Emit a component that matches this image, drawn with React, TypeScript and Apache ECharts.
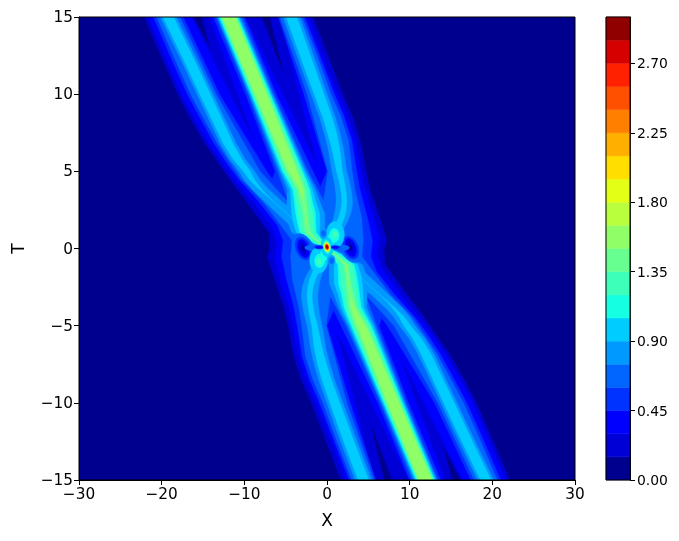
import React, { useEffect, useRef } from "react";
import * as echarts from "echarts";

const xTicks = [-30, -20, -10, 0, 10, 20, 30];
const tTicks = [-15, -10, -5, 0, 5, 10, 15];
const barTicks = [0, 0.45, 0.9, 1.35, 1.8, 2.25, 2.7];
const barLevels = [0, 0.15, 0.3, 0.45, 0.6, 0.75, 0.9, 1.05, 1.2, 1.35, 1.5, 1.65, 1.8, 1.95, 2.1, 2.25, 2.4, 2.55, 2.7, 2.85, 3.0];
const bandColors = ["#00008F", "#0000D6", "#0000FF", "#0033FF", "#0066FF", "#0099FF", "#00CCFF", "#15FFE2", "#3EFFB9", "#67FF90", "#90FF67", "#B9FF3E", "#E2FF15", "#FFDE00", "#FFAF00", "#FF8000", "#FF5000", "#FF2100", "#D60000", "#910000"];

type Pt = [number, number];
// Contours of the field: [X, T]
const contour015: Pt[] = [[-22.1, 15], [-16.2, 15], [-14.1, 12.9], [-15.1, 15], [-7.9, 15], [-5.1, 11.05], [-6.9, 15], [-1.7, 15], [0.1, 12.5], [1.9, 10], [3.1, 8.5], [4, 7], [4.7, 5], [5.2, 3.8], [6.3, 2.05], [7.2, 0.55], [6.9, 0], [7, -1], [9.67, -3], [11.7, -4.44], [13.2, -5.6], [14.8, -6.84], [16.6, -8.5], [18.05, -10], [20.1, -12.5], [22.1, -15], [16.2, -15], [14.1, -12.9], [15.1, -15], [7.9, -15], [5.1, -11.05], [6.9, -15], [1.7, -15], [-0.1, -12.5], [-1.9, -10], [-3.1, -8.5], [-4, -7], [-4.7, -5], [-5.2, -3.8], [-6.3, -2.05], [-7.2, -0.55], [-6.9, 0], [-7, 1], [-9.67, 3], [-11.7, 4.44], [-13.2, 5.6], [-14.8, 6.84], [-16.6, 8.5], [-18.05, 10], [-20.1, 12.5]];
const contour030: Pt[] = [[-21.6, 15], [-16.4, 15], [-8.5, 6.6], [-14.2, 15], [-9.9, 15], [-1.1, 5.3], [-5.7, 15], [-2.3, 15], [-0.6, 12.5], [1.3, 10], [2.5, 8.5], [3.4, 7], [4.1, 5], [4.6, 3.8], [5.6, 2.1], [6.3, 0.6], [6, -0.2], [6.6, -1.3], [8.9, -3], [11.1, -4.44], [12.7, -5.6], [14.3, -6.84], [16.1, -8.5], [17.6, -10], [19.6, -12.5], [21.6, -15], [16.4, -15], [8.5, -6.6], [14.2, -15], [9.9, -15], [1.1, -5.3], [5.7, -15], [2.3, -15], [0.6, -12.5], [-1.3, -10], [-2.5, -8.5], [-3.4, -7], [-4.1, -5], [-4.6, -3.8], [-5.6, -2.1], [-6.3, -0.6], [-6, 0.2], [-6.6, 1.3], [-8.9, 3], [-11.1, 4.44], [-12.7, 5.6], [-14.3, 6.84], [-16.1, 8.5], [-17.6, 10], [-19.6, 12.5]];
const contour045: Pt[] = [[-21, 15], [-17.4, 15], [-13, 10], [-7.3, 5], [-6.6, 4.5], [-6.3, 5], [-9.85, 10], [-13.75, 15], [-10, 15], [-6.15, 10], [-1.7, 5], [-0.8, 4], [0, 5], [-2.8, 10], [-5.9, 15], [-2.7, 15], [-0.9, 12.5], [0.9, 10], [2.1, 8.5], [3, 7], [3.6, 5], [4, 3.8], [4.9, 2], [5.5, 0.5], [5.3, -0.5], [6, -1.5], [8.2, -3], [10.6, -4.44], [12.2, -5.6], [13.7, -6.84], [15.4, -8.5], [16.9, -10], [19, -12.5], [21, -15], [17.4, -15], [13, -10], [7.3, -5], [6.6, -4.5], [6.3, -5], [9.85, -10], [13.75, -15], [10, -15], [6.15, -10], [1.7, -5], [0.8, -4], [0, -5], [2.8, -10], [5.9, -15], [2.7, -15], [0.9, -12.5], [-0.9, -10], [-2.1, -8.5], [-3, -7], [-3.6, -5], [-4, -3.8], [-4.9, -2], [-5.5, -0.5], [-5.3, 0.5], [-6, 1.5], [-8.2, 3], [-10.6, 4.44], [-12.2, 5.6], [-13.7, 6.84], [-15.4, 8.5], [-16.9, 10], [-19, 12.5]];
const contour060: Pt[] = [[-20.6, 15], [-17.8, 15], [-13.4, 10], [-8.1, 5], [-4.6, 2.95], [-6, 5], [-9.55, 10], [-13.4, 15], [-10.3, 15], [-6.45, 10], [-2.3, 5], [-0.4, 3.1], [0.1, 5], [-2.4, 10], [-5.7, 15], [-3, 15], [-1.2, 12.5], [0.5, 10], [1.7, 8.5], [2.6, 7], [3.05, 5], [3.4, 3.8], [4.2, 2], [4.4, 0.5], [4.2, -0.5], [5.6, -1.5], [7.7, -3], [10.3, -4.44], [11.8, -5.6], [13.3, -6.84], [15, -8.5], [16.5, -10], [18.6, -12.5], [20.6, -15], [17.8, -15], [13.4, -10], [8.1, -5], [4.6, -2.95], [6, -5], [9.55, -10], [13.4, -15], [10.3, -15], [6.45, -10], [2.3, -5], [0.4, -3.1], [-0.1, -5], [2.4, -10], [5.7, -15], [3, -15], [1.2, -12.5], [-0.5, -10], [-1.7, -8.5], [-2.6, -7], [-3.05, -5], [-3.4, -3.8], [-4.2, -2], [-4.4, -0.5], [-4.2, 0.5], [-5.6, 1.5], [-7.7, 3], [-10.3, 4.44], [-11.8, 5.6], [-13.3, 6.84], [-15, 8.5], [-16.5, 10], [-18.6, 12.5]];

// Ridges: [T, centre X, half widths of the bands from 0.75 upward]
type Row = [number, number, number[]];
const upperLeftRidge: Row[] = [[15, -19.2, [0.97, 0.65]], [12, -16.5, [0.97, 0.65]], [10, -14.75, [0.97, 0.65]], [8, -13, [0.97, 0.62]], [6.8, -11.95, [0.97, 0.6]], [5.8, -10.85, [0.95, 0.52]], [5, -9.7, [0.95, 0.42]], [4.4, -9, [0.97, 0.3]], [3.8, -8, [1, 0.15]], [3, -6.4, [1.05, 0]], [2.3, -4.9, [1.2, 0]], [1.6, -3.6, [1.1, 0]]];
const upperRightRidge: Row[] = [[15, -4.3, [1, 0.65]], [12, -2.3, [1, 0.63]], [10, -0.95, [0.97, 0.6]], [8.5, 0.05, [0.96, 0.57]], [7.5, 0.6, [0.95, 0.55]], [6.5, 1.05, [0.93, 0.48]], [5.5, 1.35, [0.9, 0.4]], [5, 1.5, [0.9, 0.35]], [4.2, 1.85, [0.93, 0.3]], [3.5, 2.05, [0.97, 0.3]], [3, 2.1, [1, 0.3]], [2.5, 2, [1, 0.32]], [2, 1.75, [0.95, 0.35]], [1.6, 1.45, [0.9, 0.38]], [1.2, 1.1, [0.8, 0.4]]];
const upperMiddleRidge: Row[] = [[15, -11.9, [1.37, 1.22, 1.1, 1, 0.88, 0.78]], [10, -8, [1.4, 1.25, 1.12, 1, 0.85, 0.7]], [5, -4.15, [1.6, 1.41, 1.2, 1.07, 0.75, 0.5]], [4.4, -3.6, [1.65, 1.38, 1.12, 0.95, 0.62, 0.35]], [3.8, -3.1, [1.7, 1.35, 1.05, 0.85, 0.5, 0.2]], [3, -2.85, [2, 1.5, 1.1, 0.85, 0.4, 0]], [2.3, -2.6, [2.3, 1.7, 1.2, 0.9, 0.3, 0]], [1.6, -2.45, [2.2, 1.6, 1.1, 0.85, 0.3, 0]], [1.05, -2.3, [2, 1.4, 1, 0.8, 0.35, 0]], [0.7, -1.6, [1.5, 1.1, 0.8, 0.6, 0.15, 0]], [0.4, -1, [1.1, 0.9, 0.7, 0.45, 0, 0]], [0.1, -0.2, [0.7, 0.6, 0.5, 0.4, 0.3, 0]]];
const lowerLeftRidge: Row[] = [[-15, 4.4, [1, 0.65]], [-12, 2.3, [1, 0.63]], [-10, 0.95, [0.97, 0.6]], [-8.5, -0.05, [0.96, 0.57]], [-7.5, -0.6, [0.95, 0.55]], [-6.5, -1.05, [0.93, 0.48]], [-5.5, -1.35, [0.9, 0.4]], [-5, -1.5, [0.9, 0.35]], [-4.2, -1.85, [0.93, 0.3]], [-3.5, -2.05, [0.97, 0.3]], [-3, -2.1, [1, 0.3]], [-2.5, -2, [1, 0.32]], [-2, -1.75, [0.95, 0.35]], [-1.6, -1.45, [0.9, 0.38]], [-1.2, -1.1, [0.8, 0.4]]];
const lowerRightRidge: Row[] = [[-15, 19.2, [0.97, 0.65]], [-12, 16.5, [0.97, 0.65]], [-10, 14.75, [0.97, 0.65]], [-8, 13, [0.97, 0.62]], [-6.8, 11.95, [0.97, 0.6]], [-5.8, 10.85, [0.95, 0.52]], [-5, 9.7, [0.95, 0.42]], [-4.4, 9, [0.97, 0.3]], [-3.8, 8, [1, 0.15]], [-3, 6.4, [1.05, 0]], [-2.3, 4.9, [1.2, 0]], [-1.6, 3.6, [1.1, 0]]];
const lowerMiddleRidge: Row[] = [[-15, 11.9, [1.37, 1.22, 1.1, 1, 0.88, 0.78]], [-10, 8, [1.4, 1.25, 1.12, 1, 0.85, 0.7]], [-5, 4.15, [1.6, 1.41, 1.2, 1.07, 0.75, 0.5]], [-4.4, 3.6, [1.65, 1.38, 1.12, 0.95, 0.62, 0.35]], [-3.8, 3.1, [1.7, 1.35, 1.05, 0.85, 0.5, 0.2]], [-3, 2.85, [2, 1.5, 1.1, 0.85, 0.4, 0]], [-2.3, 2.6, [2.3, 1.7, 1.2, 0.9, 0.3, 0]], [-1.6, 2.45, [2.2, 1.6, 1.1, 0.85, 0.3, 0]], [-1.05, 2.3, [2, 1.4, 1, 0.8, 0.35, 0]], [-0.7, 1.6, [1.5, 1.1, 0.8, 0.6, 0.15, 0]], [-0.4, 1, [1.1, 0.9, 0.7, 0.45, 0, 0]], [-0.1, 0.2, [0.7, 0.6, 0.5, 0.4, 0.3, 0]]];

// Patches near the collision, in drawing order: [band, X, T, radius X, radius T, lean]
type Blob = [number, number, number, number, number, number];
const centrePatches: Blob[] = [
  [4, -2.86, 0, 1.4, 0.9, 0.25], [3, -2.86, 0, 1, 0.7, 0.25], [2, -2.86, 0, 0.7, 0.55, 0.3], [1, -2.86, 0, 0.42, 0.38, 0.35], [0, -2.86, 0, 0.12, 0.15, 0.5],
  [4, 2.86, 0.05, 1.4, 0.9, 0.25], [3, 2.86, 0.05, 1, 0.7, 0.25], [2, 2.86, 0.05, 0.7, 0.55, 0.3], [1, 2.86, 0.05, 0.42, 0.38, 0.35], [0, 2.86, 0.05, 0.12, 0.15, 0.5],
  [4, -1.6, 0.05, 1.1, 0.2, 0], [4, 1.6, 0.05, 1.1, 0.2, 0],
  [6, 1, 0.9, 1.1, 0.85, 0], [7, 0.9, 0.85, 0.6, 0.45, 0], [7, 0.4, 0.5, 0.4, 0.4, 0], [8, 0.95, 0.9, 0.3, 0.22, 0],
  [6, -1, -0.75, 1.1, 0.85, 0], [7, -0.9, -0.8, 0.6, 0.45, 0], [7, -0.4, -0.45, 0.4, 0.4, 0], [8, -0.95, -0.85, 0.3, 0.22, 0],
  [6, 0, 0.1, 0.75, 0.65, 0.1],
  [3, -0.95, 0.08, 0.6, 0.12, 0], [2, -0.95, 0.08, 0.4, 0.07, 0], [3, 0.97, 0.08, 0.6, 0.12, 0], [2, 0.97, 0.08, 0.4, 0.07, 0],
  [5, -0.44, 0.98, 0.42, 0.36, 0], [4, -0.44, 0.98, 0.25, 0.2, 0], [5, 0.56, -0.79, 0.42, 0.36, 0], [4, 0.56, -0.79, 0.25, 0.2, 0],
  [7, 0, 0.1, 0.45, 0.42, 0.2], [8, 0, 0.1, 0.4, 0.37, 0.2], [9, 0, 0.1, 0.36, 0.33, 0.2], [10, 0, 0.1, 0.33, 0.3, 0.2], [11, 0, 0.1, 0.3, 0.27, 0.2], [12, 0, 0.1, 0.27, 0.24, 0.2], [13, 0, 0.1, 0.24, 0.21, 0.2], [14, 0, 0.1, 0.22, 0.19, 0.2], [15, 0, 0.1, 0.2, 0.17, 0.2], [16, 0, 0.1, 0.18, 0.155, 0.2], [17, 0, 0.1, 0.16, 0.14, 0.2], [18, 0, 0.1, 0.13, 0.115, 0.2], [19, 0, 0.1, 0.09, 0.08, 0.2],
];

type Shape = { band: number; pts: Pt[] };
const ridges = [upperLeftRidge, upperRightRidge, lowerLeftRidge, lowerRightRidge, upperMiddleRidge, lowerMiddleRidge];

function ridgeShape(rows: Row[], j: number): Shape {
  const a: Pt[] = rows.map((r) => [r[1] - r[2][j], r[0]]);
  const b: Pt[] = rows.map((r) => [r[1] + r[2][j], r[0]] as Pt).reverse();
  return { band: 5 + j, pts: a.concat(b) };
}
function blobShape(b: Blob): Shape {
  const pts: Pt[] = [];
  for (let i = 0; i < 24; i++) {
    const c = Math.cos((i / 24) * 2 * Math.PI), s = Math.sin((i / 24) * 2 * Math.PI);
    pts.push([b[1] + b[3] * c, b[2] + b[4] * s - b[5] * b[3] * c]);
  }
  return { band: b[0], pts };
}
function allShapes(): Shape[] {
  const out: Shape[] = [
    { band: 1, pts: contour015 }, { band: 2, pts: contour030 }, { band: 3, pts: contour045 }, { band: 4, pts: contour060 },
  ];
  for (let j = 0; j < 6; j++) {
    ridges.forEach((rows) => { if (j < rows[0][2].length) out.push(ridgeShape(rows, j)); });
  }
  centrePatches.forEach((b) => out.push(blobShape(b)));
  return out;
}

const minusFmt = (v: number) => (v < 0 ? "\u2212" + Math.abs(v) : String(v));
const font = "DejaVu Sans";

export default function App() {
  const ref = useRef<HTMLDivElement>(null);
  useEffect(() => {
    const chart = echarts.init(ref.current!, undefined, { renderer: "svg" });
    const shapes = allShapes();
    const tick = { show: true, length: 5, lineStyle: { color: "#000", width: 1 } };
    const line = { show: true, onZero: false, lineStyle: { color: "#000", width: 1 } };
    chart.setOption({
      animation: false,
      grid: [
        { left: 79, top: 17, width: 496, height: 463, show: true, backgroundColor: bandColors[0], borderWidth: 0 },
        { left: 606, top: 17, width: 24, height: 463, show: false },
      ],
      xAxis: [
        { type: "value", gridIndex: 0, min: -30, max: 30, interval: 10, name: "X", nameLocation: "middle", nameGap: 31, nameTextStyle: { fontFamily: font, fontSize: 17, color: "#000" }, axisLine: line, axisTick: tick, splitLine: { show: false }, axisLabel: { fontFamily: font, fontSize: 15.3, color: "#000", margin: 6, formatter: minusFmt, customValues: xTicks } },
        { type: "value", gridIndex: 1, min: 0, max: 1, show: false },
      ],
      yAxis: [
        { type: "value", gridIndex: 0, min: -15, max: 15, interval: 5, name: "T", nameLocation: "middle", nameGap: 53, nameTextStyle: { fontFamily: font, fontSize: 17, color: "#000" }, axisLine: line, axisTick: tick, splitLine: { show: false }, axisLabel: { fontFamily: font, fontSize: 15.3, color: "#000", margin: 6, formatter: minusFmt, customValues: tTicks } },
        { type: "value", gridIndex: 1, min: 0, max: 3, position: "right", axisLine: line, axisTick: { ...tick, customValues: barTicks }, splitLine: { show: false }, axisLabel: { fontFamily: font, fontSize: 13.9, color: "#000", margin: 7, formatter: (v: number) => v.toFixed(2), customValues: barTicks } },
      ],
      series: [
        {
          type: "custom", xAxisIndex: 0, yAxisIndex: 0, silent: true, clip: true,
          encode: { x: 0, y: 1 },
          data: shapes.map((s, i) => [s.pts[0][0], s.pts[0][1], i]),
          renderItem: (_: any, api: any) => {
            const s = shapes[api.value(2)];
            const color = bandColors[s.band];
            return { type: "polygon", shape: { points: s.pts.map((p) => api.coord(p)) }, style: { fill: color, stroke: color, lineWidth: 0.4 } };
          },
        },
        {
          type: "custom", xAxisIndex: 1, yAxisIndex: 1, silent: true,
          encode: { x: 0, y: 1 },
          data: barLevels.slice(0, -1).map((lo, i) => [0, lo, barLevels[i + 1], i]),
          renderItem: (_: any, api: any) => {
            const a = api.coord([0, api.value(2)]);
            const b = api.coord([1, api.value(1)]);
            const color = bandColors[api.value(3)];
            return { type: "rect", shape: { x: a[0], y: a[1], width: b[0] - a[0], height: b[1] - a[1] }, style: { fill: color, stroke: color, lineWidth: 0.5 } };
          },
        },
      ],
      graphic: [
        { type: "rect", z: 100, silent: true, shape: { x: 79, y: 17, width: 496, height: 463 }, style: { fill: "none", stroke: "#000", lineWidth: 1 } },
        { type: "rect", z: 100, silent: true, shape: { x: 606, y: 17, width: 24, height: 463 }, style: { fill: "none", stroke: "#000", lineWidth: 1 } },
      ],
    });
    return () => chart.dispose();
  }, []);
  return <div ref={ref} style={{ position: "fixed", left: 0, top: 0, width: 679, height: 541 }} />;
}
